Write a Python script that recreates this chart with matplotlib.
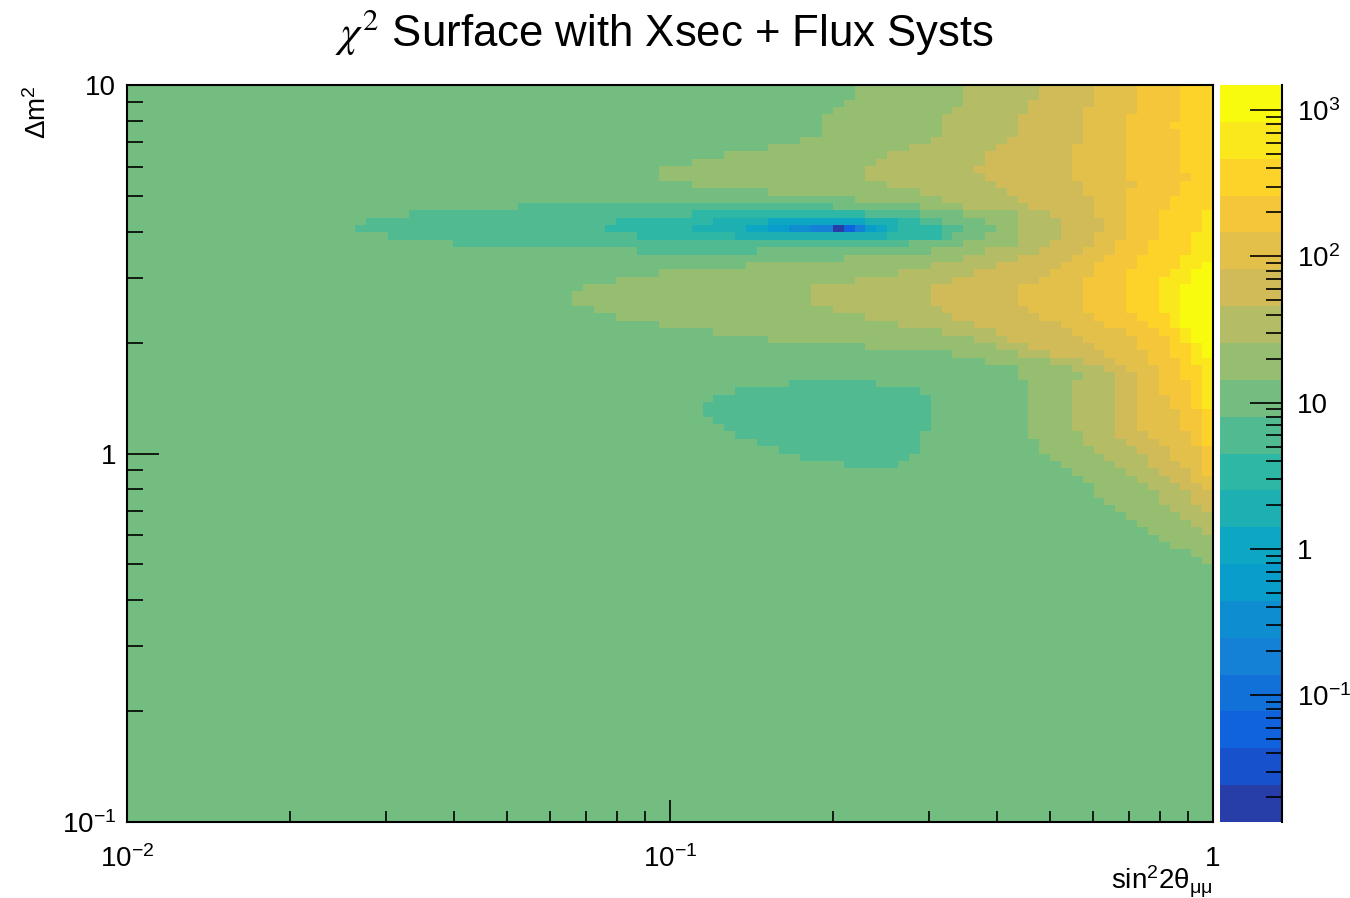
import numpy as np
import matplotlib
matplotlib.use("Agg")
import matplotlib.pyplot as plt
from matplotlib.colors import ListedColormap, LinearSegmentedColormap, LogNorm
from matplotlib.ticker import FixedLocator, FixedFormatter, NullFormatter

plt.rcParams['font.family'] = 'Liberation Sans'
plt.rcParams['mathtext.fontset'] = 'custom'
plt.rcParams['mathtext.rm'] = 'Liberation Sans'
plt.rcParams['mathtext.it'] = 'Liberation Sans:italic'
plt.rcParams['mathtext.bf'] = 'Liberation Sans:bold'

# 100 x 100 bins, log spaced; rows counted from the top (dm2 = 10)
n_x = 100
n_y = 100
z_min = 0.0136
z_max = 1485.0
n_levels = 20
background_band = 11

# first column (from sin2 = 0.01) where each contour band starts, per row
start_k12 = [67, 67, 66, 65, 64, 64, 64, 62, 59, 55, 52, 49, 49, 52, 59, 67, 73, 77, 79, 80,
             79, 77, 74, 66, 57, 49, 45, 42, 41, 41, 43, 45, 49, 54, 59, 68, 76, 79, 82, 82,
             83, 83, 83, 83, 83, 83, 83, 83, 84, 84, 85, 86, 87, 88, 89, 89, 90, 91, 92, 93,
             94, 95, 96, 98, 99, 100]
start_k13 = [77, 77, 77, 76, 75, 75, 75, 74, 72, 70, 69, 68, 68, 70, 73, 75, 77, 82, 82, 82,
             82, 82, 79, 77, 74, 71, 67, 63, 63, 63, 65, 68, 71, 75, 78, 80, 82, 85, 87, 88,
             87, 87, 87, 87, 87, 87, 87, 88, 88, 89, 90, 91, 92, 93, 94, 95, 95, 96, 97, 98,
             99, 100, 100, 100, 100, 100]
start_k14 = [84, 84, 83, 83, 82, 82, 82, 81, 80, 79, 79, 78, 79, 80, 81, 82, 83, 85, 86, 86,
             86, 85, 84, 82, 80, 78, 76, 74, 74, 74, 75, 76, 78, 80, 81, 83, 85, 88, 90, 91,
             91, 91, 91, 91, 91, 91, 91, 91, 92, 93, 94, 94, 95, 96, 97, 98, 98, 99, 100, 100,
             100, 100, 100, 100, 100, 100]
start_k15 = [89, 89, 89, 88, 88, 88, 88, 88, 87, 87, 87, 87, 87, 88, 88, 89, 89, 89, 90, 90,
             89, 89, 88, 87, 86, 85, 84, 82, 82, 82, 83, 84, 86, 87, 88, 89, 90, 91, 92, 93,
             93, 93, 93, 93, 93, 93, 93, 94, 95, 96, 96, 97, 98, 98, 99, 100, 100, 100, 100, 100,
             100, 100, 100, 100, 100, 100]
start_k16 = [93, 93, 93, 93, 92, 92, 92, 92, 92, 92, 92, 92, 92, 93, 92, 92, 92, 92, 92, 92,
             92, 91, 91, 90, 89, 89, 88, 88, 88, 88, 88, 89, 90, 92, 93, 93, 94, 94, 95, 95,
             95, 95, 96, 96, 97, 97, 97, 98, 98, 99, 99, 99, 99, 100, 100, 100, 100, 100, 100, 100,
             100, 100, 100, 100, 100, 100]
start_k17 = [97, 97, 97, 97, 97, 96, 97, 97, 97, 97, 97, 97, 98, 97, 97, 96, 96, 95, 95, 95,
             95, 94, 94, 93, 93, 92, 92, 92, 92, 92, 92, 93, 94, 95, 96, 96, 96, 97, 97, 97,
             98, 98, 98, 98, 99, 99, 99, 99, 99, 100, 100, 100, 100, 100, 100, 100, 100, 100, 100, 100,
             100, 100, 100, 100, 100, 100]
start_k18 = [100, 100, 100, 100, 100, 100, 100, 100, 100, 100, 100, 100, 100, 100, 100, 100, 100, 99, 99, 99,
             98, 98, 98, 97, 97, 96, 95, 95, 95, 95, 95, 96, 96, 97, 97, 98, 98, 98, 99, 99,
             99, 99, 99, 99, 100, 100, 100, 100, 100, 100, 100, 100, 100, 100, 100, 100, 100, 100, 100, 100,
             100, 100, 100, 100, 100, 100]
start_k19 = [100, 100, 100, 100, 100, 100, 100, 100, 100, 100, 100, 100, 100, 100, 100, 100, 100, 100, 100, 100,
             100, 100, 100, 100, 99, 98, 98, 97, 97, 97, 97, 97, 97, 98, 98, 99, 99, 100, 100, 100,
             100, 100, 100, 100, 100, 100, 100, 100, 100, 100, 100, 100, 100, 100, 100, 100, 100, 100, 100, 100,
             100, 100, 100, 100, 100, 100]

# low chi2 valley near dm2 ~ 4: (row, first col, last col, band)
valley_runs = [
    (16, 36, 64, 10),
    (17, 26, 51, 10), (17, 52, 67, 9), (17, 68, 72, 10),
    (18, 22, 44, 10), (18, 45, 53, 9), (18, 54, 58, 8), (18, 59, 67, 7), (18, 68, 70, 8),
    (18, 71, 72, 9), (18, 73, 74, 10),
    (19, 21, 43, 10), (19, 44, 51, 9), (19, 52, 56, 8), (19, 57, 58, 7), (19, 59, 60, 6),
    (19, 61, 62, 5), (19, 63, 64, 4), (19, 65, 65, 0), (19, 66, 66, 2), (19, 67, 67, 4),
    (19, 68, 68, 6), (19, 69, 69, 7), (19, 70, 70, 8), (19, 71, 74, 9), (19, 75, 76, 10),
    (20, 24, 46, 10), (20, 47, 55, 9), (20, 56, 69, 8), (20, 70, 74, 9), (20, 75, 75, 10),
    (21, 30, 71, 10),
    (22, 47, 57, 10),
]
# second local minimum near dm2 ~ 1.2
island_runs = [
    (40, 61, 68, 10), (41, 56, 72, 10), (42, 54, 73, 10), (43, 53, 73, 10),
    (44, 53, 73, 10), (45, 54, 73, 10), (46, 55, 73, 10), (47, 56, 72, 10),
    (48, 58, 72, 10), (49, 60, 72, 10), (50, 62, 71, 10), (51, 66, 70, 10),
]

# ROOT kBird palette
bird_r = [0.2082, 0.0592, 0.0780, 0.0232, 0.1802, 0.5301, 0.8186, 0.9956, 0.9764]
bird_g = [0.1664, 0.3599, 0.5041, 0.6419, 0.7178, 0.7492, 0.7328, 0.7862, 0.9832]
bird_b = [0.5293, 0.8684, 0.8385, 0.7914, 0.6425, 0.4662, 0.3499, 0.1968, 0.0539]
stops = np.linspace(0, 1, 9)
bird = LinearSegmentedColormap.from_list(
    'bird', list(zip(stops, zip(bird_r, bird_g, bird_b))), N=255)
band_colors = [bird(int((i + 0.99) * 255 / n_levels) / 254.0) for i in range(n_levels)]
cmap = ListedColormap(band_colors)

# build band map
bands = np.full((n_y, n_x), background_band)
starts = [start_k12, start_k13, start_k14, start_k15, start_k16, start_k17, start_k18, start_k19]
for k, col_starts in zip(range(12, 20), starts):
    for r, s in enumerate(col_starts):
        bands[r, s:] = k
for r, c0, c1, k in valley_runs + island_runs:
    bands[r, c0:c1 + 1] = k

log_lo = np.log10(z_min)
step = (np.log10(z_max) - log_lo) / n_levels
chi2 = 10 ** (log_lo + (bands + 0.5) * step)

x_edges = np.logspace(-2, 0, n_x + 1)
y_edges = np.logspace(1, -1, n_y + 1)

fig = plt.figure(figsize=(13.5, 8.98), dpi=100)
ax = fig.add_axes([127 / 1350, 76 / 898, 1086 / 1350, 737 / 898])
cax = fig.add_axes([1220 / 1350, 76 / 898, 62 / 1350, 737 / 898])

norm = LogNorm(vmin=z_min, vmax=z_max)
mesh = ax.pcolormesh(x_edges, y_edges, chi2, cmap=cmap, norm=norm, shading='flat')
ax.set_xscale('log')
ax.set_yscale('log')
ax.set_xlim(0.01, 1)
ax.set_ylim(0.1, 10)

ax.xaxis.set_major_locator(FixedLocator([0.01, 0.1, 1]))
ax.xaxis.set_major_formatter(FixedFormatter([r'$10^{-2}$', r'$10^{-1}$', '1']))
ax.yaxis.set_major_locator(FixedLocator([0.1, 1, 10]))
ax.yaxis.set_major_formatter(FixedFormatter([r'$10^{-1}$', '1', '10']))
minor_x = [m * 10.0 ** e for e in (-2, -1) for m in range(2, 10)]
minor_y = [m * 10.0 ** e for e in (-1, 0) for m in range(2, 10)]
ax.xaxis.set_minor_locator(FixedLocator(minor_x))
ax.yaxis.set_minor_locator(FixedLocator(minor_y))
ax.xaxis.set_minor_formatter(NullFormatter())
ax.yaxis.set_minor_formatter(NullFormatter())
ax.tick_params(axis='both', which='both', direction='in', top=False, right=False,
               labelsize=20, width=1.2)
ax.tick_params(axis='x', which='major', length=16, pad=17)
ax.tick_params(axis='x', which='minor', length=8)
ax.tick_params(axis='y', which='major', length=23, pad=8)
ax.tick_params(axis='y', which='minor', length=11.5)
for sp in ax.spines.values():
    sp.set_linewidth(1.5)

cb = fig.colorbar(mesh, cax=cax)
cb.outline.set_visible(False)
cax.plot([1, 1], [0, 1], transform=cax.transAxes, color='black', lw=1.5, clip_on=False)
cax.yaxis.set_ticks_position('right')
cax.yaxis.set_major_locator(FixedLocator([0.1, 1, 10, 100, 1000]))
cax.yaxis.set_major_formatter(FixedFormatter([r'$10^{-1}$', '1', '10', r'$10^{2}$', r'$10^{3}$']))
minor_z = [m * 10.0 ** e for e in (-2, -1, 0, 1, 2, 3) for m in range(2, 10)]
minor_z = [v for v in minor_z if z_min < v < z_max]
cax.yaxis.set_minor_locator(FixedLocator(minor_z))
cax.yaxis.set_minor_formatter(NullFormatter())
cax.tick_params(which='both', direction='in', labelsize=20, width=1.2, pad=11)
cax.tick_params(which='major', length=23)
cax.tick_params(which='minor', length=11.5)

fig.text(0.4926, 0.964, r'$\chi^2$ Surface with Xsec + Flux Systs', fontsize=31.5,
         ha='center', va='center', math_fontfamily='stix')
fig.text(1213 / 1350, 9 / 898, r'sin$^{2}$2θ$_{\mathrm{μμ}}$', fontsize=20,
         ha='right', va='baseline')
fig.text(38 / 1350, 1 - 85 / 898, r'Δm$^{2}$', fontsize=20, rotation=90,
         ha='center', va='top')

fig.savefig('out.png', dpi=100)
